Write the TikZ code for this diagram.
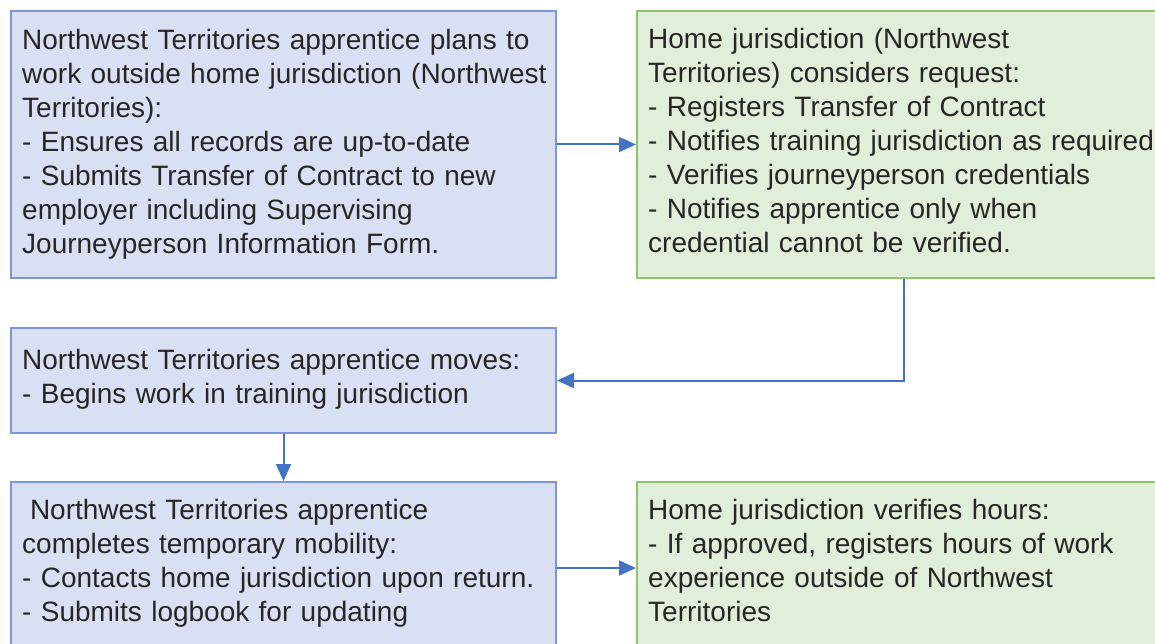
\documentclass[tikz,border=0pt]{standalone}
\usepackage{fontspec}
\setmainfont{Liberation Sans}
\usetikzlibrary{arrows.meta}
\definecolor{bluefill}{RGB}{218,224,243}
\definecolor{blueline}{RGB}{124,152,212}
\definecolor{greenfill}{RGB}{225,238,217}
\definecolor{greenline}{RGB}{140,195,108}
\definecolor{arrowblue}{RGB}{68,114,196}
\definecolor{txt}{RGB}{38,38,38}
\tikzset{
  bluebox/.style={draw=blueline, fill=bluefill, line width=2pt, rectangle, inner sep=0pt, anchor=north west},
  greenbox/.style={draw=greenline, fill=greenfill, line width=2pt, rectangle, inner sep=0pt, anchor=north west},
  label/.style={anchor=base west, inner sep=0pt, text width=560pt, align=left, text=txt,
    font=\fontsize{28}{34}\selectfont},
  conn/.style={draw=arrowblue, line width=2pt, -{Triangle[length=17pt,width=15pt]}}
}
\begin{document}
\begin{tikzpicture}[x=1pt,y=-1pt]
\useasboundingbox (0,0) rectangle (1155,644);
\clip (0,0) rectangle (1155,644);
\fill[white] (0,0) rectangle (1155,644);
% boxes
\node[bluebox, minimum width=545pt, minimum height=267pt] (b1) at (10,10) {};
\node[greenbox, minimum width=534pt, minimum height=267pt] (b2) at (636,10) {};
\node[bluebox, minimum width=545pt, minimum height=105pt] (b3) at (10,327) {};
\node[bluebox, minimum width=545pt, minimum height=172pt] (b4) at (10,481) {};
\node[greenbox, minimum width=534pt, minimum height=172pt] (b5) at (636,481) {};
% texts
\node[label] (t1) at (22,50) {Northwest Territories apprentice plans to\\
work outside home jurisdiction (Northwest\\
Territories):\\
- Ensures all records are up-to-date\\
- Submits Transfer of Contract to new\\
employer including Supervising\\
Journeyperson Information Form.};
\node[label] (t2) at (648,49) {Home jurisdiction (Northwest\\
Territories) considers request:\\
- Registers Transfer of Contract\\
- Notifies training jurisdiction as required\\
- Verifies journeyperson credentials\\
- Notifies apprentice only when\\
credential cannot be verified.};
\node[label] (t3) at (22,369) {Northwest Territories apprentice moves:\\
- Begins work in training jurisdiction};
\node[label] (t4) at (22,519) {\hspace*{7.8pt}Northwest Territories apprentice\\
completes temporary mobility:\\
- Contacts home jurisdiction upon return.\\
- Submits logbook for updating};
\node[label] (t5) at (648,519) {Home jurisdiction verifies hours:\\
- If approved, registers hours of work\\
experience outside of Northwest\\
Territories};
% connectors
\draw[conn] (b1.east) -- (b2.west);
\draw[conn] (b2.south) |- (b3.east);
\draw[conn] (b3.south) -- (b4.north);
\draw[conn] (b4.east) -- (b5.west);
\end{tikzpicture}
\end{document}
